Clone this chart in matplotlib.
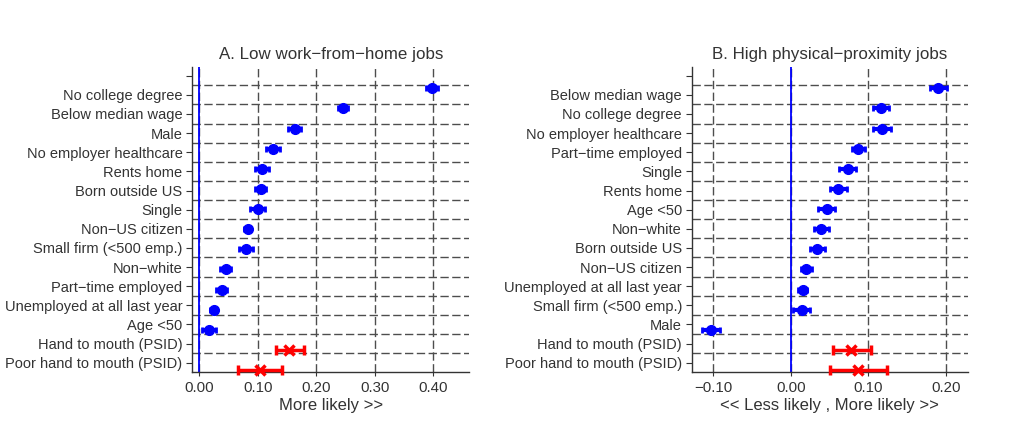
import matplotlib.pyplot as plt
import numpy as np

plt.rcParams['font.family'] = ['Liberation Sans', 'DejaVu Sans']

# Panel A: low work-from-home jobs (top to bottom)
labels_a = ["No college degree", "Below median wage", "Male", "No employer healthcare",
            "Rents home", "Born outside US", "Single", "Non\u2212US citizen",
            "Small firm (<500 emp.)", "Non\u2212white", "Part\u2212time employed",
            "Unemployed at all last year", "Age <50"]
est_a = [0.398, 0.246, 0.163, 0.126, 0.107, 0.105, 0.100, 0.083, 0.080, 0.045, 0.038, 0.025, 0.017]
ci_a = [0.010, 0.009, 0.0115, 0.0114, 0.0117, 0.0094, 0.0128, 0.006, 0.012, 0.010, 0.009, 0.006, 0.012]

# Panel B: high physical-proximity jobs
labels_b = ["Below median wage", "No college degree", "No employer healthcare",
            "Part\u2212time employed", "Single", "Rents home", "Age <50", "Non\u2212white",
            "Born outside US", "Non\u2212US citizen", "Unemployed at all last year",
            "Small firm (<500 emp.)", "Male"]
est_b = [0.190, 0.116, 0.117, 0.087, 0.073, 0.061, 0.046, 0.039, 0.034, 0.020, 0.015, 0.014, -0.103]
ci_b = [0.0108, 0.0103, 0.0116, 0.0082, 0.0112, 0.0108, 0.0108, 0.0097, 0.0093, 0.007, 0.006, 0.011, 0.0114]

# PSID rows (red)
psid_labels = ["Hand to mouth (PSID)", "Poor hand to mouth (PSID)"]
psid_a = [0.154, 0.103]
psid_a_lo = [0.131, 0.066]
psid_a_hi = [0.179, 0.142]
psid_b = [0.078, 0.087]
psid_b_lo = [0.054, 0.050]
psid_b_hi = [0.103, 0.124]

txt = '#333333'
grid_col = '#4d4d4d'

fig = plt.figure(figsize=(10.24, 4.28), dpi=100)


def panel(rect, title, labels, est, ci, p_est, p_lo, p_hi, xlim, xticks, xlabel):
    ax = fig.add_axes(rect)
    n = len(labels) + len(p_est)
    # points sit slightly off the label ticks, as in the original
    ypos = 0.66 + np.arange(n) * 1.052
    ax.set_ylim(15.47, -0.455)
    ax.set_xlim(*xlim)

    ax.set_yticks(np.arange(n + 1))
    ax.set_yticklabels([""] + labels + psid_labels)
    ax.set_yticks(np.arange(n) + 0.5, minor=True)
    ax.set_xticks(xticks)
    ax.set_xticklabels(["%.2f" % t if t >= 0 else "\u2212%.2f" % -t for t in xticks])

    ax.grid(axis='y', which='minor', color=grid_col, ls=(0, (6, 2.5)), lw=1)
    ax.grid(axis='x', which='major', color=grid_col, ls=(0, (6, 2.5)), lw=1)
    ax.tick_params(axis='y', which='minor', length=0)
    ax.tick_params(axis='y', which='major', length=4, color=txt, labelsize=10.5,
                   labelcolor=txt, pad=3)
    ax.tick_params(axis='x', length=3, color=txt, labelsize=10.8, labelcolor=txt, pad=4)
    ax.set_axisbelow(True)

    for s in ['top', 'right']:
        ax.spines[s].set_visible(False)
    for s in ['left', 'bottom']:
        ax.spines[s].set_color(txt)
        ax.spines[s].set_linewidth(1)

    ax.axvline(0, color='#0000ff', lw=1.3, zorder=2)

    k = len(labels)
    ax.errorbar(est, ypos[:k], xerr=ci, fmt='o', color='#0000ff', ms=7,
                elinewidth=3, capsize=2.5, capthick=2, zorder=3)
    p_est = np.array(p_est)
    xerr = [p_est - np.array(p_lo), np.array(p_hi) - p_est]
    eb = ax.errorbar(p_est, ypos[k:], xerr=xerr, fmt='x', color='#ff0000', ms=7, mew=2.5,
                     elinewidth=2.5, capsize=3.5, capthick=2, zorder=3)
    for art in eb.lines[1] + eb.lines[2] + (eb.lines[0],):
        art.set_clip_on(False)

    ax.set_title(title, fontsize=12.2, color=txt, pad=6)
    ax.set_xlabel(xlabel, fontsize=12, color=txt, labelpad=2)
    return ax


panel([0.1878, 0.1315, 0.2705, 0.712], "A. Low work\u2212from\u2212home jobs",
      labels_a, est_a, ci_a, psid_a, psid_a_lo, psid_a_hi,
      (-0.012, 0.462), [0.0, 0.1, 0.2, 0.3, 0.4], "More likely >>")
panel([0.6755, 0.1315, 0.2695, 0.712], "B. High physical\u2212proximity jobs",
      labels_b, est_b, ci_b, psid_b, psid_b_lo, psid_b_hi,
      (-0.128, 0.228), [-0.1, 0.0, 0.1, 0.2], "<< Less likely , More likely >>")

fig.savefig("out.png", dpi=100)
